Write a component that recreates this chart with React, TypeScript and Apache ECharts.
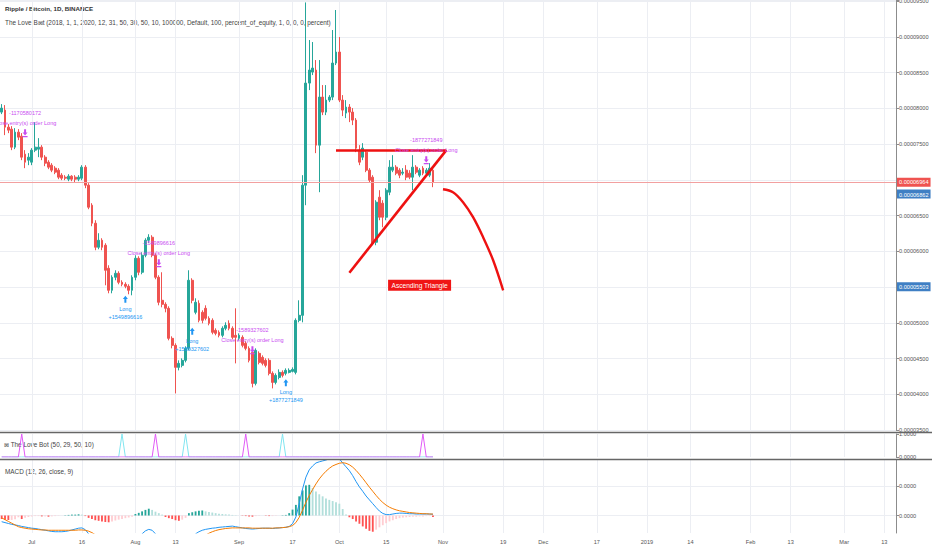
import React, { useEffect, useRef } from "react";
import * as echarts from "echarts";

const FONT = "'Liberation Sans', Arial, sans-serif";

// daily categories 2018-06-22 .. 2019-03-16
const firstDay = Date.UTC(2018, 5, 22);
const dayCount = 268;
const dates: string[] = Array.from({ length: dayCount }, (_, i) =>
  new Date(firstDay + i * 86400000).toISOString().slice(0, 10)
);

const tickDates = [
  "2018-07-01", "2018-07-16", "2018-08-01", "2018-08-13", "2018-09-01", "2018-09-17",
  "2018-10-01", "2018-10-15", "2018-11-01", "2018-11-19", "2018-12-01", "2018-12-17",
  "2019-01-01", "2019-01-14", "2019-02-01", "2019-02-13", "2019-03-01", "2019-03-13",
];
const tickTexts = ["Jul", "16", "Aug", "13", "Sep", "17", "Oct", "15", "Nov", "19", "Dec", "17", "2019", "14", "Feb", "13", "Mar", "13"];

// prices in satoshi (1e-8 BTC)
const opens = [
  7946, 7974, 7736, 7708, 7456, 7666, 7610, 7358, 7274, 7246,
  7414, 7428, 7456, 7316, 7246, 7204, 7162, 7134, 7064, 7036,
  7008, 7050, 7036, 7008, 7022, 7176, 6924, 6644, 6392, 6056,
  6154, 6084, 5762, 5454, 5636, 5692, 5566, 5538, 5510, 5454,
  5636, 5902, 5706, 5944, 6154, 6196, 5944, 5636, 5314, 5258,
  5202, 4782, 4684, 4376, 4404, 4474, 4642, 5594, 5146, 5272,
  5146, 5202, 5062, 5034, 4894, 4866, 4824, 4922, 4992, 4922,
  4824, 4782, 4796, 4712, 4642, 4586, 4152, 4572, 4516, 4474,
  4474, 4292, 4166, 4236, 4306, 4292, 4306, 4320, 4306, 5034,
  5104, 6924, 8352, 8506, 8534, 7484, 8156, 7946, 8114, 8156,
  8632, 8786, 8114, 7932, 8016, 7946, 7834, 7414, 7316, 7386,
  7134, 7036, 6126, 6756, 6672, 6476, 6826, 7134, 7176, 7134,
  7092, 7134, 7092, 7036, 7176, 7064, 7162, 7092, 7064, 7134,
];
const closes = [
  8002, 7736, 7694, 7456, 7666, 7596, 7316, 7246, 7316, 7414,
  7456, 7456, 7316, 7232, 7176, 7134, 7106, 7036, 7022, 7022,
  7050, 7008, 7008, 7036, 7176, 6924, 6616, 6392, 6056, 6154,
  6056, 5734, 5454, 5636, 5692, 5566, 5538, 5510, 5454, 5636,
  5902, 5706, 5944, 6154, 6196, 5944, 5636, 5286, 5258, 5202,
  4782, 4684, 4376, 4432, 4474, 4642, 5594, 5314, 5286, 5034,
  5034, 5062, 4992, 4866, 4852, 4824, 4922, 4964, 4922, 4796,
  4796, 4824, 4684, 4642, 4474, 4152, 4614, 4446, 4432, 4404,
  4292, 4166, 4264, 4306, 4264, 4334, 4334, 4348, 5034, 5104,
  6924, 8352, 8534, 8562, 7484, 8156, 7946, 8114, 8156, 8632,
  8786, 8114, 7974, 8016, 7946, 7834, 7442, 7246, 7442, 7134,
  6994, 6112, 6686, 6476, 6476, 6854, 7176, 7176, 7092, 7064,
  7106, 7036, 7036, 7176, 7106, 7134, 7092, 7134, 7162, 6964,
];
const lows = [
  7918, 7624, 7652, 7414, 7428, 7554, 7274, 7162, 7204, 7204,
  7386, 7316, 7274, 7190, 7148, 7106, 7078, 7008, 6994, 6994,
  6980, 6980, 6966, 6980, 6994, 6882, 6588, 6350, 6014, 6028,
  6014, 5524, 5412, 5412, 5594, 5538, 5510, 5482, 5398, 5384,
  5594, 5664, 5678, 5916, 6112, 5916, 5608, 5244, 5216, 5146,
  4754, 4642, 4012, 4334, 4376, 4446, 4614, 5272, 5118, 5006,
  4992, 5034, 4964, 4838, 4824, 4796, 4796, 4894, 4894, 4768,
  4432, 4754, 4656, 4614, 4446, 4096, 4124, 4418, 4404, 4376,
  4264, 4082, 4138, 4208, 4236, 4264, 4292, 4306, 4278, 5006,
  5006, 6644, 8254, 8464, 7372, 6826, 7904, 7904, 8086, 8114,
  8604, 8086, 7890, 7862, 7806, 7764, 7386, 7204, 7274, 7106,
  6966, 6084, 6084, 6434, 6336, 6434, 6784, 7106, 7064, 7022,
  7064, 6994, 7008, 6854, 7078, 7036, 7064, 7064, 7036, 6896,
];
const highs = [
  8058, 8044, 7778, 7750, 7722, 7708, 7652, 7414, 7372, 7442,
  7806, 7582, 7484, 7344, 7274, 7232, 7190, 7162, 7092, 7064,
  7078, 7064, 7064, 7064, 7204, 7204, 6952, 6672, 6434, 6252,
  6182, 6112, 5804, 5664, 5734, 5720, 5594, 5566, 5538, 5664,
  5944, 5930, 5986, 6182, 6238, 6224, 5972, 5664, 5706, 5286,
  5230, 4810, 4712, 4474, 4502, 4670, 5734, 5622, 5342, 5314,
  5174, 5244, 5090, 5062, 4922, 4894, 4950, 5006, 5034, 4950,
  5202, 4852, 4824, 4740, 4670, 4614, 4642, 4600, 4544, 4502,
  4502, 4320, 4292, 4348, 4334, 4362, 4362, 4376, 5062, 5314,
  7064, 9480, 8954, 8926, 8674, 8674, 8324, 8324, 8184, 9094,
  9374, 8996, 8184, 8114, 8058, 8002, 7862, 7484, 7512, 7414,
  7162, 7064, 6714, 6854, 6714, 6882, 7274, 7344, 7204, 7162,
  7162, 7204, 7134, 7344, 7204, 7162, 7190, 7162, 7232, 7162,
];

const lastPrice = 6964;
const blueLevelA = 6862;
const blueLevelB = 5503;

// MACD pane (units of 1e-6)
const macdLine = [
  -0.21, -0.24, -0.27, -0.3, -0.32, -0.34, -0.37, -0.39, -0.41, -0.43,
  -0.44, -0.46, -0.48, -0.5, -0.52, -0.54, -0.55, -0.55, -0.55, -0.54,
  -0.52, -0.49, -0.46, -0.43, -0.42, -0.48, -0.62, -0.8, -1.0, -1.15,
  -1.3, -1.45, -1.6, -1.65, -1.62, -1.58, -1.5, -1.4, -1.3, -1.15,
  -0.95, -0.8, -0.62, -0.52, -0.47, -0.5, -0.62, -0.78, -0.92, -1.05,
  -1.2, -1.3, -1.38, -1.36, -1.28, -1.15, -0.9, -0.75, -0.62, -0.55,
  -0.5, -0.47, -0.45, -0.43, -0.42, -0.4, -0.39, -0.38, -0.37, -0.36,
  -0.38, -0.4, -0.42, -0.44, -0.45, -0.46, -0.45, -0.44, -0.43, -0.43,
  -0.43, -0.44, -0.43, -0.42, -0.41, -0.4, -0.37, -0.28, -0.05, 0.4,
  0.9, 1.3, 1.55, 1.68, 1.78, 1.82, 1.85, 1.88, 1.92, 1.94,
  1.95, 1.92, 1.78, 1.65, 1.52, 1.35, 1.15, 0.97, 0.82, 0.66,
  0.53, 0.4, 0.27, 0.15, 0.07, 0.03, 0.03, 0.05, 0.07, 0.08,
  0.08, 0.07, 0.06, 0.06, 0.05, 0.05, 0.05, 0.05, 0.05, 0.04,
];
const signalLine = [
  -0.08, -0.14, -0.2, -0.26, -0.32, -0.38, -0.41, -0.43, -0.45, -0.46,
  -0.47, -0.48, -0.49, -0.49, -0.5, -0.5, -0.5, -0.5, -0.5, -0.5,
  -0.5, -0.5, -0.5, -0.49, -0.49, -0.5, -0.53, -0.58, -0.65, -0.73,
  -0.82, -0.92, -1.02, -1.12, -1.2, -1.27, -1.33, -1.37, -1.39, -1.38,
  -1.35, -1.3, -1.22, -1.14, -1.05, -0.98, -0.95, -0.93, -0.93, -0.95,
  -0.98, -1.02, -1.06, -1.09, -1.1, -1.09, -1.05, -0.98, -0.9, -0.82,
  -0.74, -0.66, -0.6, -0.55, -0.51, -0.48, -0.46, -0.44, -0.43, -0.42,
  -0.42, -0.42, -0.42, -0.42, -0.42, -0.43, -0.43, -0.43, -0.43, -0.43,
  -0.43, -0.43, -0.42, -0.42, -0.41, -0.4, -0.38, -0.34, -0.24, -0.06,
  0.18, 0.45, 0.68, 0.88, 1.07, 1.24, 1.38, 1.5, 1.6, 1.68,
  1.73, 1.77, 1.79, 1.77, 1.72, 1.64, 1.53, 1.4, 1.26, 1.11,
  0.96, 0.82, 0.68, 0.55, 0.44, 0.35, 0.28, 0.23, 0.19, 0.16,
  0.14, 0.12, 0.1, 0.09, 0.08, 0.07, 0.06, 0.06, 0.05, 0.05,
];
const histogram = [
  -0.12, -0.14, -0.15, -0.15, -0.13, -0.06, -0.12, -0.08, -0.05, -0.03,
  -0.02, -0.02, -0.03, -0.03, -0.04, -0.03, -0.02, -0.01, 0.0, 0.01,
  0.02, 0.03, 0.03, 0.04, 0.03, -0.02, -0.08, -0.12, -0.16, -0.18,
  -0.2, -0.22, -0.23, -0.2, -0.17, -0.14, -0.12, -0.09, -0.07, -0.04,
  0.05, 0.09, 0.14, 0.19, 0.23, 0.19, 0.13, 0.08, 0.03, -0.05,
  -0.09, -0.12, -0.16, -0.18, -0.14, -0.08, 0.08, 0.11, 0.14, 0.16,
  0.17, 0.14, 0.12, 0.1, 0.08, 0.06, 0.05, 0.04, 0.03, 0.02,
  0.01, 0.0, -0.01, -0.02, -0.03, -0.04, -0.02, -0.01, 0.0, -0.01,
  -0.02, -0.02, -0.01, 0.0, 0.01, 0.02, 0.08, 0.2, 0.36, 0.65,
  0.85, 1.02, 1.04, 0.93, 0.81, 0.72, 0.65, 0.58, 0.53, 0.49,
  0.45, 0.4, 0.22, 0.03, -0.06, -0.12, -0.2, -0.28, -0.37, -0.45,
  -0.52, -0.55, -0.48, -0.4, -0.33, -0.26, -0.2, -0.16, -0.12, -0.09,
  -0.07, -0.06, -0.05, -0.04, -0.04, -0.03, -0.03, -0.02, -0.02, -0.05,
];

// The Love Bot signal bars
const exitSignalBars = [6, 46, 73, 126];
const entrySignalBars = [36, 55, 84];

// strategy orders
const closeBars = [7, 47, 75, 127];
const closePrices = [7652, 5832, 4614, 7274];
const closeQty = ["-1170580172", "-1549896616", "-1589327602", "-1877271849"];
const longBars = [37, 57, 85];
const longPrices = [5328, 4880, 4160];
const longQty = ["+1549896616", "+1589327602", "+1877271849"];

// drawing: ascending triangle + projection
const triangleTopPrice = 7414;
const triangleTopStartBar = 100;
const triangleTipBar = 133;
const triangleBaseBar = 104;
const triangleBasePrice = 5700;
const curveBars = [132, 135, 138, 141, 144, 147, 150];
const curvePrices = [6868, 6826, 6686, 6476, 6196, 5874, 5454];
const labelBar = 125;
const labelPrice = 5524;

const UP = "#26a69a";
const DOWN = "#ef5350";
const EXIT = "#c94cf0";
const ENTRY = "#2196f3";
const DRAW = "#ee1111";
const GRID = "#eceef3";
const AXIS = "#8c8c8c";
const TXT = "#555";

const exitArrow = "path://M3,0H7V6H10L5,11L0,6H3Z M0,12H10V14H0Z";
const entryArrow = "path://M5,0L10,5H7V11H3V5H0Z";

const fmtPrice = (v: number) => (v / 1e8).toFixed(8);
const priceMarkers = [lastPrice, blueLevelA, blueLevelB];

export default function App() {
  const ref = useRef<HTMLDivElement>(null);

  useEffect(() => {
    document.body.style.margin = "0";
    if (!ref.current) return;
    const chart = echarts.init(ref.current, undefined, { renderer: "svg" });

    const candleData = opens.map((o, i) => [o, closes[i], lows[i], highs[i]]);
    const histData = histogram.map((v, i) => {
      const prev = i > 0 ? histogram[i - 1] : 0;
      const color = v >= 0 ? (v >= prev ? "#26a69a" : "#b2dfdb") : v < prev ? "#ff5252" : "#ffcdd2";
      return { value: v, itemStyle: { color } };
    });
    const exitSig = opens.map((_, i) => (exitSignalBars.includes(i) ? 1 : 0));
    const entrySig = opens.map((_, i) => (entrySignalBars.includes(i) ? 1 : 0));

    const vGrid = tickDates.map((d) => ({ xAxis: d }));
    const gridLineStyle = { color: GRID, width: 1, type: "solid" as const };

    const priceLabel = (bg: string, extra: any = {}) => ({
      show: true,
      position: "end",
      distance: 1,
      formatter: (p: any) => fmtPrice(p.value),
      backgroundColor: bg,
      color: "#fff",
      padding: [2, 2, 1, 2],
      fontSize: 5.6,
      fontFamily: FONT,
      ...extra,
    });

    const xAxisBase = (g: number) => ({
      type: "category",
      gridIndex: g,
      data: dates,
      boundaryGap: true,
      axisLine: { show: g === 2, lineStyle: { color: AXIS } },
      axisTick: { show: false },
      splitLine: { show: false },
      axisLabel: {
        show: g === 2,
        interval: (_idx: number, val: string) => tickDates.includes(val),
        formatter: (val: string) => tickTexts[tickDates.indexOf(val)] ?? "",
        fontSize: 5.6,
        color: TXT,
        margin: 6,
      },
    });

    const option: any = {
      animation: false,
      backgroundColor: "#ffffff",
      textStyle: { fontFamily: FONT },
      grid: [
        { left: 0, right: 36, top: 0, height: 430, outerBoundsMode: "none" },
        { left: 0, right: 36, top: 434, height: 23, outerBoundsMode: "none" },
        { left: 0, right: 36, top: 460, height: 73, outerBoundsMode: "none" },
      ],
      xAxis: [xAxisBase(0), xAxisBase(1), xAxisBase(2)],
      yAxis: [
        {
          gridIndex: 0,
          type: "value",
          position: "right",
          min: 3500,
          max: 9514,
          interval: 500,
          axisLine: { show: true, lineStyle: { color: AXIS } },
          axisTick: { show: true, length: 3, lineStyle: { color: AXIS } },
          axisLabel: {
            color: TXT,
            fontSize: 5.6,
            margin: 3,
            // tick labels hidden where a price marker label sits on the scale
            formatter: (v: number) =>
              v % 500 === 0 && !priceMarkers.some((m) => Math.abs(m - v) < 100) ? fmtPrice(v) : "",
          },
          splitLine: { show: true, lineStyle: { color: GRID } },
        },
        {
          gridIndex: 1,
          type: "value",
          position: "right",
          min: 0,
          max: 1,
          interval: 1,
          axisLine: { show: true, lineStyle: { color: AXIS } },
          axisTick: { show: true, length: 3, lineStyle: { color: AXIS } },
          axisLabel: { color: TXT, fontSize: 5.6, margin: 3, formatter: (v: number) => v.toFixed(4) },
          splitLine: { show: false },
        },
        {
          gridIndex: 2,
          type: "value",
          position: "right",
          min: -0.593,
          max: 1.881,
          axisLine: { show: true, lineStyle: { color: AXIS } },
          axisTick: { show: true, length: 3, customValues: [0, 1], lineStyle: { color: AXIS } },
          axisLabel: {
            customValues: [0, 1],
            color: TXT,
            fontSize: 5.6,
            margin: 3,
            formatter: (v: number) => (v * 1e-6).toFixed(4),
          },
          splitLine: { show: false },
        },
      ],
      series: [
        // grid helpers
        {
          type: "line",
          xAxisIndex: 0,
          yAxisIndex: 0,
          data: [],
          silent: true,
          markLine: { z: 1, silent: true, symbol: ["none", "none"], label: { show: false }, lineStyle: gridLineStyle, data: vGrid },
        },
        {
          type: "line",
          xAxisIndex: 1,
          yAxisIndex: 1,
          data: [],
          silent: true,
          markLine: { z: 1, silent: true, symbol: ["none", "none"], label: { show: false }, lineStyle: gridLineStyle, data: vGrid },
        },
        {
          type: "line",
          xAxisIndex: 2,
          yAxisIndex: 2,
          data: [],
          silent: true,
          markLine: {
            z: 1,
            silent: true,
            symbol: ["none", "none"],
            label: { show: false },
            lineStyle: gridLineStyle,
            data: [...vGrid, { yAxis: 0 }, { yAxis: 1 }],
          },
        },
        {
          type: "candlestick",
          xAxisIndex: 0,
          yAxisIndex: 0,
          z: 2,
          barWidth: "70%",
          data: candleData,
          itemStyle: { color: UP, color0: DOWN, borderColor: UP, borderColor0: DOWN, borderWidth: 1 },
          markLine: {
            silent: true,
            symbol: ["none", "none"],
            data: [
              { yAxis: lastPrice, lineStyle: { color: "#f2a0a0", width: 1, type: "solid" }, label: priceLabel("#ef5350") },
              { yAxis: blueLevelA, lineStyle: { color: "rgba(0,0,0,0)", width: 1 }, label: priceLabel("#3f7fc4", { verticalAlign: "top" }) },
              { yAxis: blueLevelB, lineStyle: { color: "rgba(0,0,0,0)", width: 1 }, label: priceLabel("#3f7fc4") },
              [
                { coord: [dates[triangleTopStartBar], triangleTopPrice], lineStyle: { color: DRAW, width: 2.6, type: "solid" }, label: { show: false } },
                { coord: [dates[triangleTipBar], triangleTopPrice] },
              ],
              [
                { coord: [dates[triangleBaseBar], triangleBasePrice], lineStyle: { color: DRAW, width: 2.6, type: "solid" }, label: { show: false } },
                { coord: [dates[triangleTipBar], triangleTopPrice] },
              ],
            ],
          },
          markPoint: {
            silent: true,
            data: [
              ...closeBars.map((b, k) => ({
                coord: [dates[b], closePrices[k]],
                symbol: exitArrow,
                symbolSize: [5, 8],
                itemStyle: { color: EXIT },
                label: {
                  show: true,
                  position: "top",
                  distance: 1,
                  formatter: closeQty[k] + "\nClose entry(s) order Long",
                  color: EXIT,
                  fontSize: 5.5,
                  lineHeight: 10,
                  align: "center",
                },
              })),
              ...longBars.map((b, k) => ({
                coord: [dates[b], longPrices[k]],
                symbol: entryArrow,
                symbolSize: [5, 7],
                itemStyle: { color: ENTRY },
                label: {
                  show: true,
                  position: "bottom",
                  distance: 2,
                  formatter: "Long\n" + longQty[k],
                  color: ENTRY,
                  fontSize: 5.5,
                  lineHeight: 8,
                  align: "center",
                },
              })),
              {
                coord: [dates[labelBar], labelPrice],
                symbol: "rect",
                symbolSize: [63, 11],
                itemStyle: { color: "#f01515" },
                label: { show: true, position: "inside", formatter: "Ascending Triangle", color: "#fff", fontSize: 6.6 },
              },
            ],
          },
        },
        {
          type: "line",
          xAxisIndex: 0,
          yAxisIndex: 0,
          z: 4,
          smooth: 0.35,
          symbol: "none",
          silent: true,
          data: curveBars.map((b, k) => [dates[b], curvePrices[k]]),
          lineStyle: { color: DRAW, width: 2.4 },
        },
        // The Love Bot pane
        {
          type: "line",
          xAxisIndex: 1,
          yAxisIndex: 1,
          symbol: "none",
          silent: true,
          data: entrySig,
          lineStyle: { color: "#80e5f0", width: 1 },
        },
        {
          type: "line",
          xAxisIndex: 1,
          yAxisIndex: 1,
          symbol: "none",
          silent: true,
          data: exitSig,
          lineStyle: { color: "#e15af7", width: 1 },
        },
        // MACD pane
        {
          type: "bar",
          xAxisIndex: 2,
          yAxisIndex: 2,
          barWidth: "55%",
          silent: true,
          data: histData,
        },
        {
          type: "line",
          xAxisIndex: 2,
          yAxisIndex: 2,
          symbol: "none",
          silent: true,
          data: macdLine,
          lineStyle: { color: "#2196f3", width: 1 },
        },
        {
          type: "line",
          xAxisIndex: 2,
          yAxisIndex: 2,
          symbol: "none",
          silent: true,
          data: signalLine,
          lineStyle: { color: "#f57c00", width: 1 },
        },
      ],
      graphic: [
        { type: "line", silent: true, z: 10, shape: { x1: 0, y1: 432.5, x2: 932, y2: 432.5 }, style: { stroke: "#666", lineWidth: 1.4 } },
        { type: "line", silent: true, z: 10, shape: { x1: 0, y1: 459.5, x2: 932, y2: 459.5 }, style: { stroke: "#666", lineWidth: 1.4 } },
        {
          type: "text",
          x: 5,
          y: 8,
          silent: true,
          style: { text: "Ripple / Bitcoin, 1D, BINANCE", fontSize: 6.2, fontWeight: "bold", fill: "#333", fontFamily: FONT, verticalAlign: "middle" },
        },
        {
          type: "text",
          x: 5,
          y: 22,
          silent: true,
          style: {
            text: "The Love B\u22a0t (2018, 1, 1, 2020, 12, 31, 50, 30, 50, 10, 100000, Default, 100, percent_of_equity, 1, 0, 0, 0, percent)",
            fontSize: 6.4,
            fill: "#444",
            fontFamily: FONT,
            verticalAlign: "middle",
          },
        },
        {
          type: "text",
          x: 4,
          y: 444,
          silent: true,
          style: { text: "\u22a0 The Love Bot (50, 29, 50, 10)", fontSize: 6.4, fill: "#444", fontFamily: FONT, verticalAlign: "middle" },
        },
        {
          type: "text",
          x: 5,
          y: 471,
          silent: true,
          style: { text: "MACD (12, 26, close, 9)", fontSize: 6.4, fill: "#444", fontFamily: FONT, verticalAlign: "middle" },
        },
      ],
    };

    chart.setOption(option);
    return () => chart.dispose();
  }, []);

  return <div ref={ref} style={{ width: 932, height: 550 }} />;
}
